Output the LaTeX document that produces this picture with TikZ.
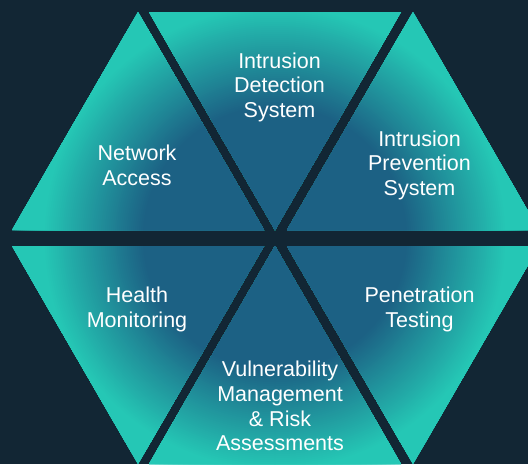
\documentclass[tikz,border=0pt]{standalone}
\usepackage{fontspec}
\setmainfont{Liberation Sans}
\definecolor{hexbg}{HTML}{122634}
\definecolor{hexdark}{HTML}{1C6184}
\definecolor{hexteal}{HTML}{25C7B5}
\tikzset{
  lbl/.style={text=white, align=center, anchor=base, inner sep=0pt,
    font=\fontsize{21.5}{24.6}\selectfont}
}
\begin{document}
\begin{tikzpicture}[x=1pt,y=-1pt]
\fill[hexbg] (0,0) rectangle (528,464);
\useasboundingbox (0,0) rectangle (528,464);
\begin{scope}
\clip (0,0) rectangle (528,464);
\clip (138,12) -- (12,230) -- (264,230) -- cycle
      (149,12) -- (401,12) -- (275,230) -- cycle
      (413,12) -- (287,230) -- (539,230) -- cycle
      (12,246) -- (264,246) -- (138,464) -- cycle
      (275,246) -- (149,464) -- (401,464) -- cycle
      (287,246) -- (539,246) -- (413,464) -- cycle;
\fill[hexdark] (0,0) rectangle (528,464);
\foreach \r in {270,268,...,130}{
  \pgfmathsetmacro{\p}{max(0,min(100,(\r-132)/(232-132)*100))}
  \fill[hexteal!\p!hexdark] (275,238) circle (\r pt);
}
\end{scope}
\node[lbl] (na) at (137,185) {Network\\Access};
\node[lbl] (ids) at (279.5,117.3) {Intrusion\\Detection\\System};
\node[lbl] (ips) at (419.5,195.2) {Intrusion\\Prevention\\System};
\node[lbl] (hm) at (137,327) {Health\\Monitoring};
\node[lbl] (pt) at (419.5,327) {Penetration\\Testing};
\node[lbl] (vm) at (280,450.7) {Vulnerability\\Management\\\& Risk\\Assessments};
\end{tikzpicture}
\end{document}
